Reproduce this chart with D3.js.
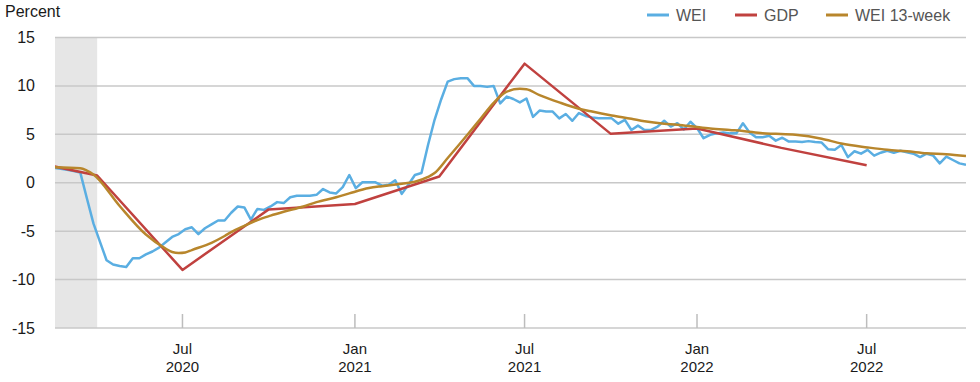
<!DOCTYPE html>
<html><head><meta charset="utf-8">
<script src="https://cdn.jsdelivr.net/npm/d3@7"></script>
<style>
body{margin:0;background:#fff;}
svg{display:block;font-family:"Liberation Sans",Arial,sans-serif;}
</style>
</head><body>
<svg id="chart" width="980" height="382"></svg>
<script>
// ---------------- DATA ----------------
const weiStart = "2020-02-15"; // first weekly observation (weeks ending Saturday)
const weiValues = [
  1.55, 1.45, 1.35, 1.2, 1.05, -1.6, -4.2, -6.1, -8.0, -8.45,
  -8.6, -8.7, -7.8, -7.8, -7.4, -7.1, -6.7, -6.15, -5.6, -5.3,
  -4.8, -4.6, -5.3, -4.7, -4.3, -3.9, -3.9, -3.1, -2.45, -2.55,
  -3.8, -2.7, -2.8, -2.45, -2.0, -2.1, -1.5, -1.35, -1.35, -1.35,
  -1.25, -0.65, -1.0, -1.1, -0.45, 0.8, -0.55, 0.05, 0.05, 0.05,
  -0.3, -0.2, 0.25, -1.15, -0.2, 0.8, 1.0, 3.9, 6.5, 8.6,
  10.45, 10.7, 10.8, 10.8, 10.0, 10.0, 9.9, 10.0, 8.2, 8.9,
  8.65, 8.3, 8.7, 6.8, 7.45, 7.35, 7.35, 6.65, 7.1, 6.4,
  7.2, 6.9, 6.75, 6.65, 6.65, 6.65, 6.1, 6.5, 5.45, 5.9,
  5.45, 5.45, 5.8, 6.4, 5.8, 6.15, 5.5, 6.3, 5.65, 4.6,
  4.95, 5.1, 5.2, 5.1, 5.1, 6.15, 5.2, 4.7, 4.7, 4.85,
  4.35, 4.65, 4.25, 4.25, 4.2, 4.3, 4.2, 4.15, 3.45, 3.4,
  3.9, 2.65, 3.25, 3.0, 3.4, 2.8, 3.1, 3.3, 3.1, 3.3,
  3.15, 3.0, 2.65, 3.0, 2.8, 2.0, 2.7, 2.35, 2.0, 1.85
];

const wei13Dates = [
  "2020-02-15","2020-03-14","2020-03-21","2020-03-28","2020-04-25","2020-05-23",
  "2020-06-13","2020-06-20","2020-06-27","2020-07-04","2020-07-11","2020-08-01",
  "2020-08-15","2020-08-22","2020-09-05","2020-09-19","2020-10-03","2020-10-17",
  "2020-11-07","2020-11-21","2020-12-12","2020-12-26","2021-01-16","2021-01-30",
  "2021-02-20","2021-03-06","2021-03-20","2021-03-27","2021-04-10","2021-05-01",
  "2021-05-15","2021-05-29","2021-06-12","2021-06-26","2021-07-03","2021-07-17",
  "2021-08-07","2021-08-28","2021-09-11","2021-10-02","2021-10-23","2021-11-06",
  "2021-11-27","2021-12-11","2022-01-01","2022-01-15","2022-02-05","2022-02-19",
  "2022-03-12","2022-03-26","2022-04-16","2022-05-14","2022-06-04","2022-07-02",
  "2022-07-23","2022-08-13","2022-09-03","2022-09-24","2022-10-15"
];
const wei13Values = [
  1.6, 1.5, 1.25, 0.85, -2.4, -5.35,
  -6.8, -7.15, -7.25, -7.2, -6.95, -6.2,
  -5.5, -5.1, -4.45, -3.85, -3.4, -3.0,
  -2.45, -2.0, -1.5, -1.1, -0.55, -0.35,
  -0.1, 0.1, 0.6, 1.0, 2.55, 4.95,
  6.6, 8.25, 9.4, 9.7, 9.65, 9.05,
  8.3, 7.65, 7.35, 6.95, 6.6, 6.35,
  6.1, 6.0, 5.75, 5.6, 5.45, 5.35,
  5.1, 5.05, 4.95, 4.55, 4.05, 3.65,
  3.4, 3.25, 3.05, 2.95, 2.75
];

const gdpDates = ["2020-01-01","2020-04-01","2020-07-01","2020-10-01","2021-01-01","2021-04-01",
                  "2021-07-01","2021-10-01","2022-01-01","2022-04-01","2022-07-01"];
const gdpValues = [2.6, 0.75, -9.0, -2.75, -2.2, 0.65, 12.3, 5.05, 5.6, 3.6, 1.8];

const yTicks = [15, 10, 5, 0, -5, -10, -15];
const xTickDates = ["2020-07-01","2021-01-01","2021-07-01","2022-01-01","2022-07-01"];
const xTickMonths = ["Jul","Jan","Jul","Jan","Jul"];
const xTickYears = ["2020","2021","2021","2022","2022"];
const xDomain = ["2020-02-16","2022-10-15"];
const recession = ["2020-02-01","2020-04-01"];
const seriesNames = ["WEI","GDP","WEI 13-week"];
const seriesColors = ["#5aaee2","#c0413f","#b8862c"];

// ---------------- CHART ----------------
const parse = d3.utcParse("%Y-%m-%d");
const svg = d3.select("#chart");
const L = 55, R = 966, T = 37.5, B = 328;

const x = d3.scaleUtc().domain(xDomain.map(parse)).range([L, R]);
const y = d3.scaleLinear().domain([-15, 15]).range([B, T]);

const startDate = parse(weiStart);
const wei = weiValues.map((v, i) => ({date: d3.utcWeek.offset(startDate, i), v}));
const wei13 = wei13Dates.map((d, i) => ({date: parse(d), v: wei13Values[i]}));
const gdp = gdpDates.map((d, i) => ({date: parse(d), v: gdpValues[i]}));

svg.append("defs").append("clipPath").attr("id", "plot")
  .append("rect").attr("x", L).attr("y", 0).attr("width", R - L).attr("height", B + 2);

// recession shading
svg.append("rect")
  .attr("x", Math.max(L, x(parse(recession[0]))))
  .attr("y", T)
  .attr("width", x(parse(recession[1])) - Math.max(L, x(parse(recession[0]))))
  .attr("height", B - T)
  .attr("fill", "#e6e6e6");

// gridlines
svg.append("g").selectAll("line").data(yTicks).join("line")
  .attr("x1", L).attr("x2", R)
  .attr("y1", d => y(d)).attr("y2", d => y(d))
  .attr("stroke", "#c8c8c8").attr("stroke-width", 1.5);

// y labels
svg.append("g").selectAll("text").data(yTicks).join("text")
  .attr("x", 35).attr("y", d => y(d) + 5.5)
  .attr("text-anchor", "end")
  .attr("font-size", 16).attr("fill", "#1a1a1a")
  .text(d => d);

svg.append("text").attr("x", 5).attr("y", 17)
  .attr("font-size", 16).attr("fill", "#1a1a1a").text("Percent");

// x ticks
const xg = svg.append("g");
xTickDates.forEach((d, i) => {
  const xx = x(parse(d));
  xg.append("line").attr("x1", xx).attr("x2", xx).attr("y1", B).attr("y2", B - 14)
    .attr("stroke", "#bdbdbd").attr("stroke-width", 1.5);
  xg.append("text").attr("x", xx).attr("y", 353.5).attr("text-anchor", "middle")
    .attr("font-size", 15).attr("fill", "#1a1a1a").text(xTickMonths[i]);
  xg.append("text").attr("x", xx).attr("y", 372).attr("text-anchor", "middle")
    .attr("font-size", 15).attr("fill", "#1a1a1a").text(xTickYears[i]);
});

// lines
const lineLinear = d3.line().x(d => x(d.date)).y(d => y(d.v));
const lineSmooth = d3.line().x(d => x(d.date)).y(d => y(d.v)).curve(d3.curveMonotoneX);
const g = svg.append("g").attr("clip-path", "url(#plot)");

g.append("path").datum(wei).attr("d", lineLinear)
  .attr("fill", "none").attr("stroke", seriesColors[0]).attr("stroke-width", 2.5)
  .attr("stroke-linejoin", "round");
g.append("path").datum(gdp).attr("d", lineLinear)
  .attr("fill", "none").attr("stroke", seriesColors[1]).attr("stroke-width", 2.5)
  .attr("stroke-linejoin", "round");
g.append("path").datum(wei13).attr("d", lineSmooth)
  .attr("fill", "none").attr("stroke", seriesColors[2]).attr("stroke-width", 2.5)
  .attr("stroke-linejoin", "round");

// legend
const legendX = [647, 735, 826];
const lg = svg.append("g");
seriesNames.forEach((n, i) => {
  lg.append("line").attr("x1", legendX[i]).attr("x2", legendX[i] + 22)
    .attr("y1", 15).attr("y2", 15)
    .attr("stroke", seriesColors[i]).attr("stroke-width", 3);
  lg.append("text").attr("x", legendX[i] + 29).attr("y", 20.5)
    .attr("font-size", 16).attr("fill", "#555").text(n);
});
</script>
</body></html>
